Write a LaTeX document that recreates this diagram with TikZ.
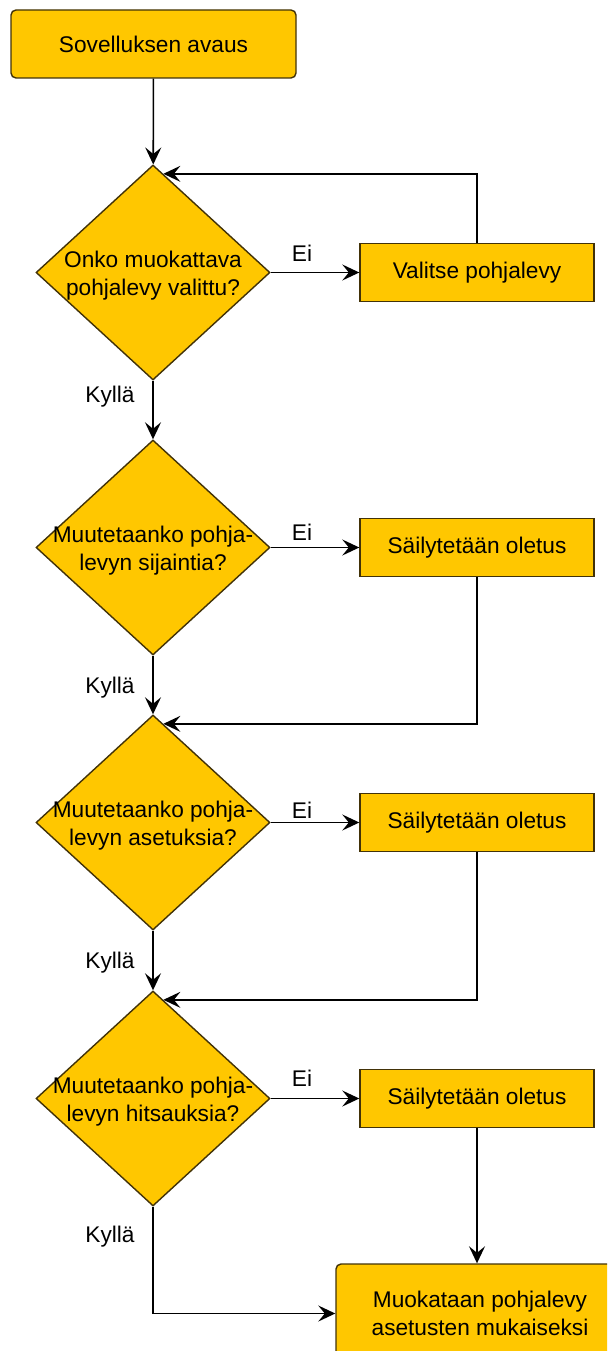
\documentclass[tikz,border=0pt]{standalone}
\usepackage{fontspec}
\setmainfont{Liberation Sans}
\usetikzlibrary{shapes.geometric, arrows.meta}

\definecolor{flowfill}{RGB}{255,199,0}
\definecolor{flowline}{RGB}{66,50,8}

\tikzset{
    every node/.style={font=\fontsize{12.9pt}{15.9pt}\selectfont},
    terminal/.style={draw=flowline, fill=flowfill, rectangle, rounded corners=1mm, line width=0.8pt, align=center},
    process/.style={draw=flowline, fill=flowfill, rectangle, line width=0.8pt, minimum width=4.68cm, minimum height=1.16cm},
    decision/.style={draw=flowline, fill=flowfill, diamond, line width=0.8pt, inner sep=0pt, minimum width=4.68cm, minimum height=4.3cm},
    qtext/.style={align=center, inner sep=0pt, yshift=-0.7mm},
    flow/.style={-{Stealth[length=3.4mm, width=3.2mm, inset=1.3mm]}, line width=0.9pt}
}

\begin{document}
\begin{tikzpicture}

    % Page frame
    \clip (0, 0) rectangle (12.14, -27.02);

    % Start
    \node[terminal, minimum width=5.7cm, minimum height=1.36cm] (start) at (3.07, -0.88) {Sovelluksen avaus};

    % Question 1: is a plate chosen
    \node[decision] (q1) at (3.06, -5.45) {};
    \node[qtext] (q1_txt) at (q1) {Onko muokattava\\pohjalevy valittu?};
    \node[process] (b1) at (9.54, -5.45) {Valitse pohjalevy};
    \node (ei_1) at (6.04, -5.06) {Ei};
    \node (kylla_1) at (2.2, -7.94) {Kyllä};

    % Question 2: location
    \node[decision] (q2) at (3.06, -10.95) {};
    \node[qtext] (q2_txt) at (q2) {Muutetaanko pohja-\\levyn sijaintia?};
    \node[process] (k2) at (9.54, -10.95) {Säilytetään oletus};
    \node (ei_2) at (6.04, -10.64) {Ei};
    \node (kylla_2) at (2.2, -13.76) {Kyllä};

    % Question 3: settings
    \node[decision] (q3) at (3.06, -16.45) {};
    \node[qtext] (q3_txt) at (q3) {Muutetaanko pohja-\\levyn asetuksia?};
    \node[process] (k3) at (9.54, -16.45) {Säilytetään oletus};
    \node (ei_3) at (6.04, -16.2) {Ei};
    \node (kylla_3) at (2.2, -19.26) {Kyllä};

    % Question 4: welds
    \node[decision] (q4) at (3.06, -21.97) {};
    \node[qtext] (q4_txt) at (q4) {Muutetaanko pohja-\\levyn hitsauksia?};
    \node[process] (k4) at (9.54, -21.97) {Säilytetään oletus};
    \node (ei_4) at (6.04, -21.56) {Ei};
    \node (kylla_4) at (2.2, -24.74) {Kyllä};

    % End
    \node[terminal, minimum width=5.76cm, minimum height=1.98cm] (fin) at (9.6, -26.27) {Muokataan pohjalevy\\asetusten mukaiseksi};

    % Arrows down the main column
    \draw[flow] (start) -- (q1);
    \draw[flow] (q1) -- (q2);
    \draw[flow] (q2) -- (q3);
    \draw[flow] (q3) -- (q4);
    \draw[flow] (q4.south) |- (fin.west);

    % Arrows to the side boxes
    \draw[flow] (q1.east) -- (b1.west);
    \draw[flow] (q2.east) -- (k2.west);
    \draw[flow] (q3.east) -- (k3.west);
    \draw[flow] (q4.east) -- (k4.west);

    % Arrows back into the column
    \draw[flow] (b1.north) |- (q1.84);
    \draw[flow] (k2.south) |- (q3.84);
    \draw[flow] (k3.south) |- (q4.84);
    \draw[flow] (k4.south) -- (k4.south |- fin.north);

\end{tikzpicture}
\end{document}
